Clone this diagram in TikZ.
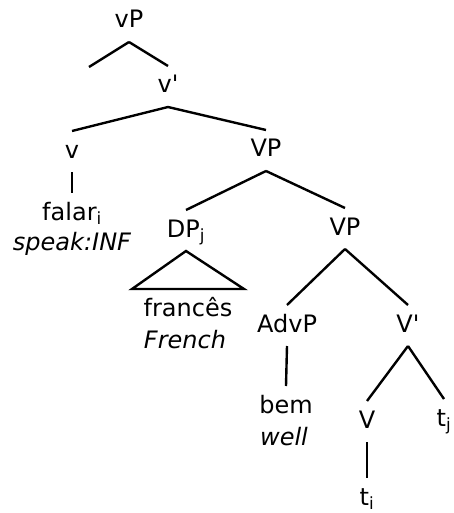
\documentclass[tikz,border=0pt]{standalone}
\usepackage{fontspec}
\setmainfont{DejaVu Sans}

\tikzset{
  cat/.style={anchor=base, inner sep=0pt, outer xsep=0pt, outer ysep=10pt,
    text height=17pt, text depth=4pt, font=\fontsize{24}{32}\selectfont},
  gloss/.style={anchor=base, inner sep=0pt, font=\fontsize{24}{32}\selectfont\itshape}
}

\begin{document}
\begin{tikzpicture}[x=1pt, y=-1pt, line width=2.4pt]
\useasboundingbox (0,0) rectangle (454,513);

\node[cat] (vP) at (129,28) {vP};
\coordinate (spec) at (89,67);
\node[cat] (vbar) at (168,93) {v\textquotesingle};
\node[cat] (v) at (72,158) {v};
\node[cat] (falar) at (72,220) {falar\textsubscript{i}};
\node[gloss] (speak) at (72,250) {speak:INF};
\node[cat] (VP) at (266,157) {VP};
\node[cat] (DP) at (186,237) {DP\textsubscript{j}};
\node[cat] (frances) at (188,316) {francês};
\node[gloss] (french) at (185,348) {French};
\node[cat] (VPlow) at (345,235) {VP};
\node[cat] (AdvP) at (287,332) {AdvP};
\node[cat] (bem) at (286,413) {bem};
\node[gloss] (well) at (284,445) {well};
\node[cat] (Vbar) at (408,332) {V\textquotesingle};
\node[cat] (V) at (367,428) {V};
\node[cat] (tj) at (444,426) {t\textsubscript{j}};
\node[cat] (ti) at (367,505) {t\textsubscript{i}};

\draw (vP.south) -- (spec);
\draw (vP.south) -- (vbar.north);
\draw (vbar.south) -- (v.north);
\draw (vbar.south) -- (VP.north);
\draw (v.south) -- (falar.north);
\draw (VP.south) -- (DP.north);
\draw (VP.south) -- (VPlow.north);
\draw (DP.south) -- ([xshift=-56pt]frances.north) -- ([xshift=56pt]frances.north) -- cycle;
\draw (VPlow.south) -- (AdvP.north);
\draw (VPlow.south) -- (Vbar.north);
\draw (AdvP.south) -- (bem.north);
\draw (Vbar.south) -- (V.north);
\draw (Vbar.south) -- (tj.north);
\draw (V.south) -- (ti.north);

\end{tikzpicture}
\end{document}
